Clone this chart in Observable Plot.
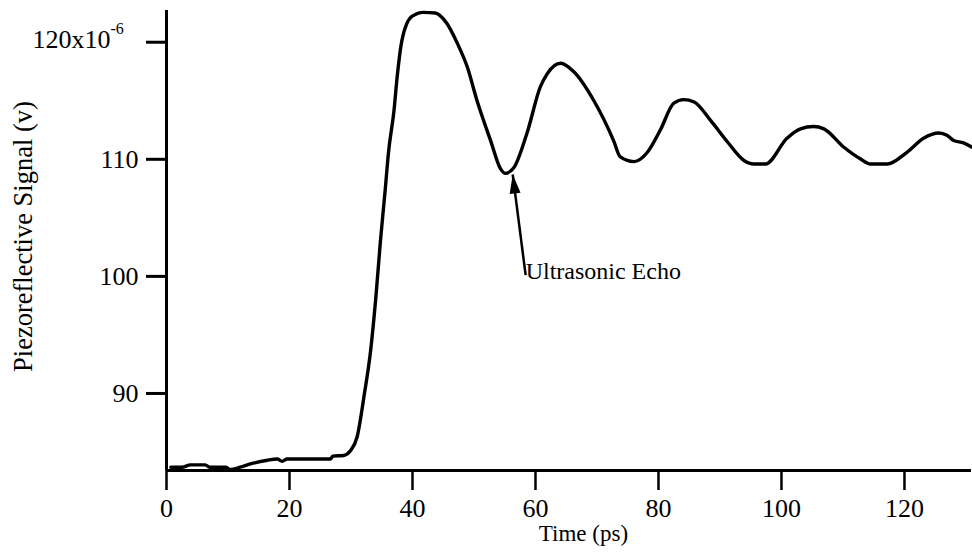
<!DOCTYPE html>
<html>
<head>
<meta charset="utf-8">
<script src="https://cdn.jsdelivr.net/npm/d3@7"></script>
<script src="https://cdn.jsdelivr.net/npm/@observablehq/plot@0.6"></script>
<style>
  html, body { margin: 0; padding: 0; background: #fff; }
</style>
</head>
<body>
<div id="chart"></div>
<script>
// Time (ps)
const time = [0.7, 2.5, 3.9, 6.3, 7.0, 9.6, 10.4, 12.0, 14.1, 16.4, 18.0, 18.8, 19.6, 26.7, 27.0, 28.8, 29.9, 31.0, 32.1, 33.2, 34.0, 34.8, 35.6, 36.1, 37.0, 37.5, 38.3, 39.9, 41.8, 43.7, 45.6, 47.3, 48.9, 50.5, 52.7, 54.3, 55.1, 56.5, 58.6, 60.8, 61.9, 64.1, 66.2, 69.5, 72.7, 73.8, 76.0, 78.2, 80.3, 82.5, 84.1, 85.8, 88.5, 91.2, 93.9, 95.5, 97.4, 100.9, 103.1, 105.2, 106.9, 110.1, 112.8, 114.5, 117.2, 120.4, 123.1, 125.6, 126.9, 128.0, 129.6, 130.9];
// Piezoreflective signal (x10^-6 V)
const signal = [83.7, 83.7, 83.9, 83.9, 83.7, 83.7, 83.5, 83.7, 84.05, 84.3, 84.4, 84.2, 84.4, 84.4, 84.65, 84.7, 85.1, 86.3, 89.7, 93.7, 97.95, 103.1, 107.6, 110.6, 114.2, 117.0, 120.2, 122.2, 122.55, 122.5, 121.6, 119.9, 117.9, 115.0, 111.6, 109.2, 108.8, 109.3, 112.2, 116.2, 117.3, 118.2, 117.5, 115.0, 111.6, 110.2, 109.8, 110.6, 112.5, 114.8, 115.1, 114.9, 113.3, 111.5, 109.9, 109.6, 109.6, 111.8, 112.6, 112.8, 112.6, 111.05, 110.05, 109.6, 109.6, 110.6, 111.8, 112.25, 112.05, 111.6, 111.4, 111.05];

const xTicks = [0, 20, 40, 60, 80, 100, 120];
const yTicks = [90, 100, 110, 120];
const xDomain = [0, 130.9];
const yDomain = [83.42, 122.71];

const annotationText = "Ultrasonic Echo";
const arrowFrom = {t: 58.4, v: 100.1};
const arrowTo = {t: 56.3, v: 108.7};

const data = time.map((t, i) => ({t, v: signal[i]}));

const font = "'Liberation Serif', 'Times New Roman', serif";

// narrow filled arrow head, tip at the symbol's origin
const arrowHead = {
  draw(ctx) {
    ctx.moveTo(0, 0);
    ctx.lineTo(-5.5, 19);
    ctx.lineTo(5.5, 19);
    ctx.closePath();
  }
};

const chart = Plot.plot({
  width: 972,
  height: 558,
  marginLeft: 166,
  marginRight: 1,
  marginTop: 10,
  marginBottom: 88,
  style: {fontFamily: font, fontSize: "26px", color: "#000", background: "#fff"},
  x: {domain: xDomain, ticks: xTicks},
  y: {domain: yDomain, ticks: yTicks},
  marks: [
    Plot.axisX({ticks: xTicks, tickSize: 20, tickPadding: 8, strokeWidth: 2.5, label: null, fontSize: 26}),
    Plot.axisY({ticks: yTicks, tickSize: 20, tickPadding: 8, strokeWidth: 3, label: null, fontSize: 26,
      tickFormat: d => d === 120 ? "" : String(d)}),
    Plot.ruleY([yDomain[0]], {stroke: "#000", strokeWidth: 3}),
    Plot.ruleX([xDomain[0]], {stroke: "#000", strokeWidth: 3}),
    Plot.line(data, {x: "t", y: "v", stroke: "#000", strokeWidth: 3.4, curve: "monotone-x"}),
    Plot.link([0], {x1: () => arrowFrom.t, y1: () => arrowFrom.v, x2: () => arrowTo.t, y2: () => arrowTo.v,
      stroke: "#000", strokeWidth: 2.5}),
    Plot.dot([0], {x: () => arrowTo.t, y: () => arrowTo.v, symbol: arrowHead, rotate: -7.3,
      fill: "#000", stroke: "none"}),
    Plot.text([0], {x: () => arrowFrom.t, y: () => arrowFrom.v, text: () => annotationText,
      textAnchor: "start", lineAnchor: "middle", dx: 0, dy: -4, fontSize: 24, fill: "#000"}),
    // 120x10^-6 tick label
    Plot.text([120], {y: d => d, text: () => "120x10", frameAnchor: "left", textAnchor: "end",
      dx: -56, dy: -3, fontSize: 26, fill: "#000"}),
    Plot.text([120], {y: d => d, text: () => "-6", frameAnchor: "left", textAnchor: "start",
      dx: -56, dy: -13, fontSize: 16, fill: "#000"}),
    // axis titles
    Plot.text([0], {x: () => 67.8, text: () => "Time (ps)", frameAnchor: "bottom", lineAnchor: "top",
      dy: 54, fontSize: 23, fill: "#000"}),
    Plot.text([0], {y: () => 103.4, text: () => "Piezoreflective Signal (v)",
      frameAnchor: "left", textAnchor: "middle", rotate: -90, lineAnchor: "middle", dx: -143, fontSize: 26.5, fill: "#000"})
  ]
});

document.getElementById("chart").appendChild(chart);
</script>
</body>
</html>
